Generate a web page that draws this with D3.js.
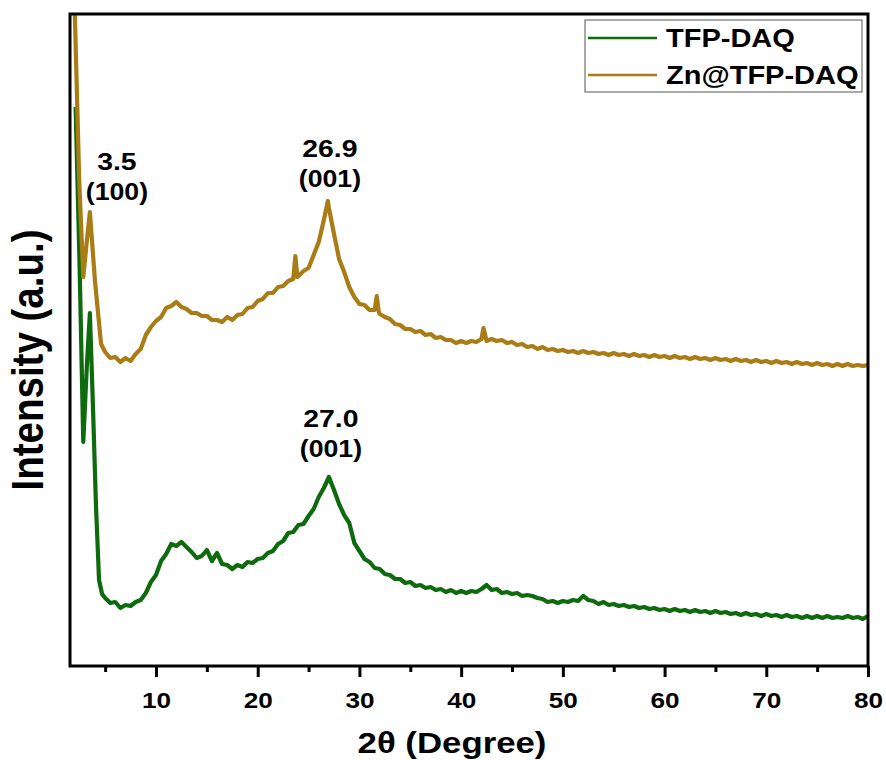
<!DOCTYPE html>
<html>
<head>
<meta charset="utf-8">
<script src="https://cdn.jsdelivr.net/npm/d3@7"></script>
<style>
  html, body { margin: 0; padding: 0; background: #fff; }
  svg { display: block; }
  text { font-family: "Liberation Sans", Arial, sans-serif; font-weight: bold; fill: #000; }
</style>
</head>
<body>
<svg id="chart" width="886" height="760"></svg>
<script>
// 2θ positions (degrees) and intensities (a.u.) for TFP-DAQ
const tfpTheta = [
  2.1, 2.5, 2.85, 3.2, 3.5, 3.8, 4.1, 4.4, 4.7,
  5, 5.5, 6, 6.5, 7, 7.5, 8, 8.5, 9, 9.5,
  10, 10.5, 11, 11.5, 12, 12.5, 13, 13.5, 14, 14.5,
  15, 15.5, 16, 16.5, 17, 17.5, 18, 18.5, 19, 19.5,
  20, 20.5, 21, 21.5, 22, 22.5, 23, 23.5, 24, 24.5,
  25, 25.5, 26, 26.5, 27, 27.5, 28, 28.5, 29, 29.5,
  30, 30.5, 31, 31.5, 32, 32.5, 33, 33.5, 34, 34.5,
  35, 35.5, 36, 36.5, 37, 37.5, 38, 38.5, 39, 39.5,
  40, 40.5, 41, 41.5, 42, 42.5, 43, 43.5, 44, 44.5,
  45, 45.5, 46, 46.5, 47, 47.5, 48, 48.5, 49, 49.5,
  50, 50.5, 51, 51.5, 52, 52.5, 53, 53.5, 54, 54.5,
  55, 55.5, 56, 56.5, 57, 57.5, 58, 58.5, 59, 59.5,
  60, 60.5, 61, 61.5, 62, 62.5, 63, 63.5, 64, 64.5,
  65, 65.5, 66, 66.5, 67, 67.5, 68, 68.5, 69, 69.5,
  70, 70.5, 71, 71.5, 72, 72.5, 73, 73.5, 74, 74.5,
  75, 75.5, 76, 76.5, 77, 77.5, 78, 78.5, 79, 79.5,
  80];
const tfpIntensity = [
  559, 395, 224, 300, 353, 260, 160, 86, 72,
  68, 63, 64, 58, 61, 60, 64, 66, 73, 84,
  91, 105, 112, 122, 120, 124, 119, 114, 108, 110,
  116, 105, 113, 102, 101, 97, 101, 99, 104, 103,
  107, 108, 113, 115, 122, 125, 133, 134, 141, 142,
  150, 157, 169, 178, 189, 176, 162, 151, 143, 123,
  115, 107, 104, 98, 97, 92, 91, 87, 87, 83,
  84, 80, 81, 78, 79, 76, 77, 74, 76, 73,
  75, 73, 75, 74, 77, 81, 76, 77, 73, 74,
  72, 73, 70, 71, 70, 68, 67, 64, 65, 63,
  65, 64, 66, 65, 70, 66, 65, 62, 64, 61,
  62, 60, 61, 59, 60, 58, 59, 57, 58, 56,
  57, 55, 57, 55, 56, 54, 56, 54, 55, 53,
  55, 53, 54, 52, 53, 51, 53, 51, 52, 50,
  52, 50, 51, 49, 51, 49, 50, 48, 50, 48,
  50, 48, 50, 48, 49, 48, 50, 48, 49, 47,
  50];

// 2θ positions (degrees) and intensities (a.u.) for Zn@TFP-DAQ
const znTheta = [
  2.0, 2.45, 2.85, 3.2, 3.5, 4.0, 4.6,
  5, 5.5, 6, 6.5, 7, 7.5, 8, 8.5, 9, 9.5,
  10, 10.5, 11, 11.5, 12, 12.5, 13, 13.5, 14, 14.5,
  15, 15.5, 16, 16.5, 17, 17.5, 18, 18.5, 19, 19.5,
  20, 20.5, 21, 21.5, 22, 22.5, 23, 23.5, 23.7, 23.9, 24, 24.5,
  25, 25.5, 26, 26.5, 26.9, 27, 27.5, 28, 28.5, 29, 29.5,
  30, 30.5, 31, 31.5, 31.7, 31.9, 32, 32.5, 33, 33.5, 34, 34.5,
  35, 35.5, 36, 36.5, 37, 37.5, 38, 38.5, 39, 39.5,
  40, 40.5, 41, 41.5, 42, 42.2, 42.5, 43, 43.5, 44, 44.5,
  45, 45.5, 46, 46.5, 47, 47.5, 48, 48.5, 49, 49.5,
  50, 50.5, 51, 51.5, 52, 52.5, 53, 53.5, 54, 54.5,
  55, 55.5, 56, 56.5, 57, 57.5, 58, 58.5, 59, 59.5,
  60, 60.5, 61, 61.5, 62, 62.5, 63, 63.5, 64, 64.5,
  65, 65.5, 66, 66.5, 67, 67.5, 68, 68.5, 69, 69.5,
  70, 70.5, 71, 71.5, 72, 72.5, 73, 73.5, 74, 74.5,
  75, 75.5, 76, 76.5, 77, 77.5, 78, 78.5, 79, 79.5,
  80];
const znIntensity = [
  660, 486, 389, 425, 454, 385, 322,
  314, 308, 309, 304, 308, 305, 312, 317, 331, 339,
  345, 349, 358, 360, 364, 359, 357, 353, 353, 350,
  350, 346, 346, 344, 349, 346, 351, 352, 358, 359,
  365, 367, 373, 373, 379, 380, 385, 387, 410, 389, 390, 395,
  398, 411, 424, 446, 465, 458, 432, 407, 394, 379, 369,
  362, 361, 356, 356, 370, 354, 352, 349, 347, 342, 341, 337,
  337, 334, 335, 331, 332, 328, 329, 326, 326, 323,
  325, 323, 325, 324, 327, 338, 325, 327, 325, 326, 323,
  324, 321, 322, 319, 320, 317, 319, 316, 317, 315,
  316, 314, 315, 313, 315, 313, 314, 312, 313, 311,
  313, 311, 312, 310, 312, 310, 311, 309, 311, 309,
  310, 308, 310, 308, 309, 307, 309, 307, 308, 306,
  308, 306, 307, 305, 307, 305, 306, 304, 306, 304,
  305, 303, 305, 303, 304, 302, 304, 302, 303, 301,
  303, 301, 302, 300, 302, 300, 302, 300, 301, 300,
  301];

const seriesNames = ["TFP-DAQ", "Zn@TFP-DAQ"];
const seriesColors = ["#0d6b0d", "#a97c16"];

const majorTicks = [10, 20, 30, 40, 50, 60, 70, 80];
const minorTicks = [5, 15, 25, 35, 45, 55, 65, 75];

// peak annotations: position, value label, Miller index, which series
const peakTheta = [3.5, 26.9, 27.0];
const peakText = ["3.5", "26.9", "27.0"];
const peakHkl = ["(100)", "(001)", "(001)"];
const peakSeries = [1, 1, 0];

// lettering is drawn slightly wide
const textStretch = 1.16;

const svg = d3.select("#chart");
const plot = { left: 70, right: 868, top: 14, bottom: 666 };

const x = d3.scaleLinear().domain([1.545, 80]).range([plot.left, plot.right]);
const y = d3.scaleLinear().domain([0, 652]).range([plot.bottom, plot.top]);

// place a horizontally widened text at (tx, ty)
function wideText(g, tx, ty, size, str, anchor) {
  return g.append("text")
    .attr("transform", `translate(${tx},${ty}) scale(${textStretch},1)`)
    .attr("text-anchor", anchor || "start")
    .attr("font-size", size)
    .text(str);
}

svg.append("defs").append("clipPath").attr("id", "plot-clip")
  .append("rect")
  .attr("x", plot.left).attr("y", plot.top)
  .attr("width", plot.right - plot.left).attr("height", plot.bottom - plot.top);

const series = [
  tfpTheta.map((t, i) => [t, tfpIntensity[i]]),
  znTheta.map((t, i) => [t, znIntensity[i]])
];

const lineGen = d3.line().x(d => x(d[0])).y(d => y(d[1]));

const curves = svg.append("g").attr("clip-path", "url(#plot-clip)");
series.forEach((s, i) => {
  curves.append("path")
    .datum(s)
    .attr("d", lineGen)
    .attr("fill", "none")
    .attr("stroke", seriesColors[i])
    .attr("stroke-width", 4.2)
    .attr("stroke-linejoin", "round");
});

// peak labels above each marked reflection (offsets in px above the peak)
const valueGap = [42, 44, 50];
const hklGap = [12, 14, 20];
const labelShift = [27, 2, 2];
const labels = svg.append("g");
peakTheta.forEach((t, i) => {
  const pt = series[peakSeries[i]].find(d => d[0] === t);
  const cx = x(t) + labelShift[i];
  const py = y(pt[1]);
  wideText(labels, cx, py - valueGap[i], 24.5, peakText[i], "middle");
  wideText(labels, cx, py - hklGap[i], 23, peakHkl[i], "middle");
});

// bottom axis: major ticks with labels, minor ticks without
const axisMajor = d3.axisBottom(x).tickValues(majorTicks).tickSize(11).tickSizeOuter(0).tickFormat(d3.format("d"));
const axisMinor = d3.axisBottom(x).tickValues(minorTicks).tickSize(6).tickSizeOuter(0).tickFormat("");

const gMinor = svg.append("g").attr("transform", `translate(0,${plot.bottom})`).call(axisMinor);
const gMajor = svg.append("g").attr("transform", `translate(0,${plot.bottom})`).call(axisMajor);
[gMinor, gMajor].forEach(g => {
  g.select(".domain").remove();
  g.selectAll(".tick line").attr("stroke", "#000").attr("stroke-width", 3);
});
gMajor.selectAll(".tick text")
  .attr("y", null).attr("dy", null)
  .attr("transform", `translate(0,42) scale(${textStretch},1)`)
  .attr("font-size", 22.5)
  .attr("font-family", "Liberation Sans, Arial, sans-serif")
  .attr("font-weight", "bold")
  .attr("fill", "#000");

// plot frame
svg.append("rect")
  .attr("x", plot.left).attr("y", plot.top)
  .attr("width", plot.right - plot.left).attr("height", plot.bottom - plot.top)
  .attr("fill", "none").attr("stroke", "#000").attr("stroke-width", 3);

// axis titles
wideText(svg, 452, 753, 30, "2θ (Degree)", "middle");

svg.append("text")
  .attr("transform", `translate(43,360) scale(${textStretch},1) rotate(-90)`)
  .attr("text-anchor", "middle")
  .attr("font-size", 38.5)
  .text("Intensity (a.u.)");

// legend
const legend = svg.append("g");
legend.append("rect")
  .attr("x", 585).attr("y", 20).attr("width", 277).attr("height", 72)
  .attr("fill", "#fff").attr("stroke", "#555").attr("stroke-width", 1);
seriesNames.forEach((name, i) => {
  const ly = 38 + i * 37;
  legend.append("line")
    .attr("x1", 588).attr("x2", 657).attr("y1", ly).attr("y2", ly)
    .attr("stroke", seriesColors[i]).attr("stroke-width", 2.5);
  wideText(legend, 666, ly + 9, 25, name);
});
</script>
</body>
</html>
